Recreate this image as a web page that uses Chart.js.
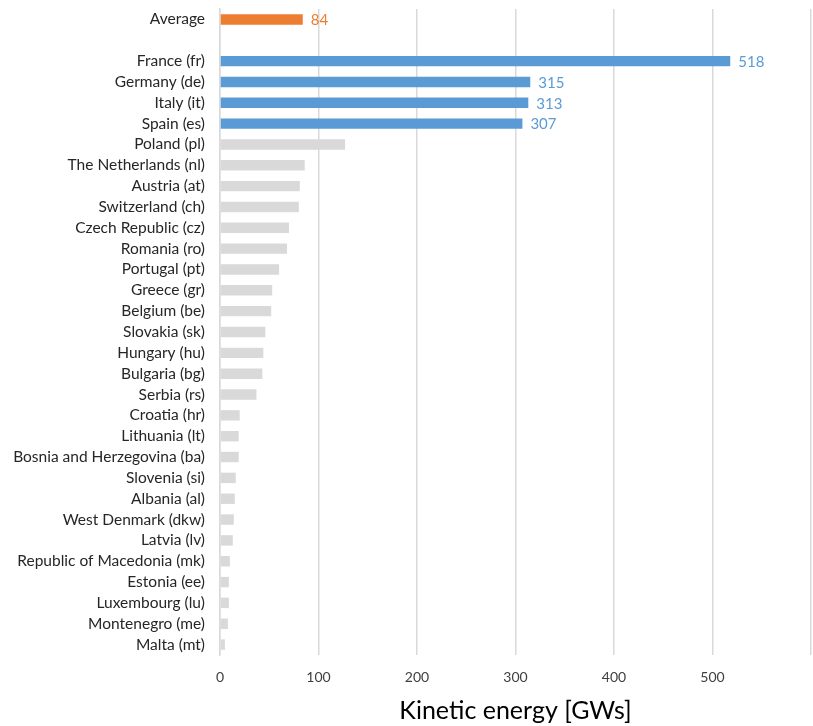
<!DOCTYPE html>
<html>
<head>
<meta charset="utf-8">
<script src="https://cdn.jsdelivr.net/npm/chart.js@4.4.1/dist/chart.umd.min.js"></script>
<style>
  html, body { margin: 0; padding: 0; background: #fff; }
  #wrap { width: 813px; height: 726px; position: relative; }
</style>
</head>
<body>
<div id="wrap"><canvas id="chart"></canvas></div>
<script>
// categories, top to bottom
const averageLabel = 'Average';
const averageValue = 84;

const countries = [
    'France (fr)', 'Germany (de)', 'Italy (it)', 'Spain (es)', 'Poland (pl)',
    'The Netherlands (nl)', 'Austria (at)', 'Switzerland (ch)', 'Czech Republic (cz)',
    'Romania (ro)', 'Portugal (pt)', 'Greece (gr)', 'Belgium (be)', 'Slovakia (sk)',
    'Hungary (hu)', 'Bulgaria (bg)', 'Serbia (rs)', 'Croatia (hr)', 'Lithuania (lt)',
    'Bosnia and Herzegovina (ba)', 'Slovenia (si)', 'Albania (al)', 'West Denmark (dkw)',
    'Latvia (lv)', 'Republic of Macedonia (mk)', 'Estonia (ee)', 'Luxembourg (lu)',
    'Montenegro (me)', 'Malta (mt)'
];
const energy = [
    518, 315, 313, 307, 127,
    86, 81, 80, 70,
    68, 60, 53, 52, 46,
    44, 43, 37, 20, 19,
    19, 16, 15, 14,
    13, 10, 9, 9,
    8, 5
];
const topCount = 4; // countries highlighted in blue
const xTicks = [0, 100, 200, 300, 400, 500];

//---------------------build rows--------------------------------------//
const labels = [averageLabel, ''].concat(countries);
const values = [averageValue, null].concat(energy);
const colors = labels.map((l, i) => {
    if (i === 0) return '#ED7D31';
    if (i >= 2 && i < 2 + topCount) return '#5B9BD5';
    return '#D9D9D9';
});
const showValue = labels.map((l, i) => i === 0 || (i >= 2 && i < 2 + topCount));

// draws the numbers at the end of the coloured bars
const valueLabels = {
    id: 'valueLabels',
    afterDatasetsDraw(chart) {
        const ctx = chart.ctx;
        const meta = chart.getDatasetMeta(0);
        ctx.save();
        ctx.font = '15px Lato, sans-serif';
        ctx.textBaseline = 'middle';
        ctx.textAlign = 'left';
        meta.data.forEach((bar, i) => {
            if (!showValue[i] || values[i] == null) return;
            ctx.fillStyle = colors[i];
            ctx.fillText(String(values[i]), bar.x + 8, bar.y + 1);
        });
        ctx.restore();
    }
};

const ctx = document.getElementById('chart');
new Chart(ctx, {
    type: 'bar',
    data: {
        labels: labels,
        datasets: [{
            data: values,
            backgroundColor: colors,
            borderWidth: 0,
            barPercentage: 0.5,
            categoryPercentage: 1.0
        }]
    },
    plugins: [valueLabels],
    options: {
        indexAxis: 'y',
        responsive: true,
        maintainAspectRatio: false,
        animation: false,
        layout: { padding: { top: 9, right: 2, bottom: 0, left: 0 } },
        plugins: {
            legend: { display: false },
            tooltip: { enabled: false }
        },
        scales: {
            x: {
                min: 0,
                max: 600,
                afterBuildTicks: (scale) => {
                    scale.ticks = xTicks.concat([600]).map(v => ({ value: v }));
                },
                afterFit: (scale) => {
                    scale.paddingLeft = 0;
                    scale.paddingRight = 0;
                    scale.height = 71;
                },
                grid: { color: '#D9D9D9', lineWidth: 1.5, drawTicks: false },
                border: { display: false },
                ticks: {
                    padding: 14,
                    color: '#404040',
                    font: { family: 'Lato, sans-serif', size: 14 },
                    callback: (v) => xTicks.includes(v) ? String(v) : ''
                },
                title: {
                    display: true,
                    text: 'Kinetic energy [GWs]',
                    color: '#000',
                    font: { family: 'Lato, sans-serif', size: 25 },
                    padding: { top: 0, bottom: 0 }
                }
            },
            y: {
                afterFit: (scale) => {
                    scale.width = 220;
                    scale.paddingTop = 0;
                    scale.paddingBottom = 0;
                },
                grid: { display: false, drawTicks: false },
                border: { display: true, color: '#D9D9D9', width: 1.5 },
                ticks: {
                    autoSkip: false,
                    padding: 15,
                    color: '#262626',
                    font: { family: 'Lato, sans-serif', size: 15.5 }
                }
            }
        }
    }
});
</script>
</body>
</html>
